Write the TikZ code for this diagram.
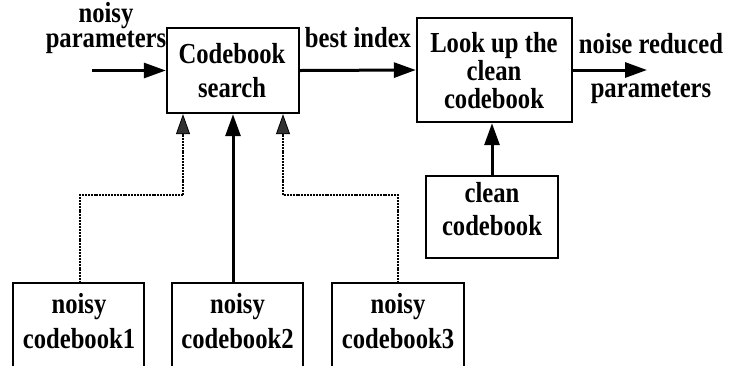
\documentclass[tikz,border=0pt]{standalone}
\usepackage{fontspec}
\setmainfont{Liberation Serif}[FakeStretch=0.85]
\usetikzlibrary{arrows.meta}
\begin{document}
\begin{tikzpicture}[x=1pt,y=-1pt,
  box/.style={draw,line width=2.4pt,inner sep=0pt},
  % multi-line labels sit on the baseline of their last line
  txt/.style={anchor=base,inner sep=0pt,align=center,
    font=\fontsize{29}{28}\selectfont\bfseries},
  arr/.style={line width=3pt,-{Triangle[length=22pt,width=15pt]}},
  dotarr/.style={line width=2.3pt,dash pattern=on 2pt off 0.9pt,
    -{Triangle[length=20pt,width=14pt,line width=0.8pt,fill=black!80]}},
  dotline/.style={line width=2.3pt,dash pattern=on 2pt off 0.9pt}]
\clip (0,0) rectangle (730,365);
\fill[white] (0,0) rectangle (730,365);

% main blocks
\node[box,minimum width=132pt,minimum height=85pt] (search) at (233,70.5) {};
\node[box,minimum width=155pt,minimum height=104pt] (lookup) at (494.5,70) {};
\node[box,minimum width=132pt,minimum height=82pt] (clean) at (492,217) {};

% noisy codebook boxes (open towards the bottom edge)
\coordinate (nb1) at (80,283);
\coordinate (nb2) at (237.5,283);
\coordinate (nb3) at (398,283);
\draw[line width=2.4pt] (13,380) |- (144,283) -- (144,380);
\draw[line width=2.4pt] (172,380) |- (303,283) -- (303,380);
\draw[line width=2.4pt] (332,380) |- (464,283) -- (464,380);

% block texts
\node[txt] (stxt) at (232,97) {Codebook\\[6pt]search};
\node[txt] (ltxt) at (494,108) {Look up the\\clean\\codebook};
\node[txt] (ctxt) at (492,235) {clean\\[5pt]codebook};
\node[txt] (n1) at (79,348) {noisy\\[7pt]codebook1};
\node[txt] (n2) at (237.5,348) {noisy\\[7pt]codebook2};
\node[txt] (n3) at (398,348) {noisy\\[7pt]codebook3};

% signal labels
\node[txt,font=\fontsize{29}{24.5}\selectfont\bfseries] (np) at (106,47) {noisy\\parameters};
\node[txt] (bi) at (358,47) {best index};
\node[txt,font=\fontsize{29}{44}\selectfont\bfseries] (nr) at (651,97) {noise reduced\\parameters};

% signal flow
\coordinate (in) at (92,70.5);
\coordinate (out) at (647,70);
\draw[arr] (in) -- (search.west);
\draw[arr] (search.east) -- (lookup.west);
\draw[arr] (lookup.east) -- (out);
\draw[arr] (clean.north) -- (clean.north |- lookup.south);
\draw[arr] (search.south |- nb2) -- (search.south);

% dotted feeds from codebooks 1 and 3
\coordinate (j1) at (183,195);
\coordinate (j3) at (283,195);
\draw[dotline] (nb1) |- (j1);
\draw[dotarr] (j1) -- (j1 |- search.south);
\draw[dotline] (nb3) |- (j3);
\draw[dotarr] (j3) -- (j3 |- search.south);
\end{tikzpicture}
\end{document}
